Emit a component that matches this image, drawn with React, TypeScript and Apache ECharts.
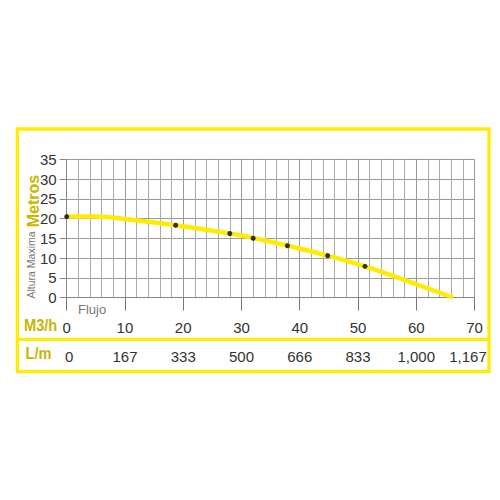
import React, { useEffect, useRef } from "react";
import * as echarts from "echarts";

// Pump curve: flow (M3/h) vs head (Metros)
const curveFlow = [0, 5, 10, 18.7, 28, 32, 38, 44.8, 51.2, 56, 66.3];
const curveHead = [20.5, 20.5, 19.9, 18.3, 16.2, 15.1, 13.1, 10.6, 7.9, 5.5, 0];
const pointFlow = [0, 18.7, 28, 32, 37.9, 44.8, 51.2];
const pointHead = [20.5, 18.3, 16.2, 15.0, 13.1, 10.6, 7.9];
const m3hTicks = [0, 10, 20, 30, 40, 50, 60, 70];
const lmLabels = ["0", "167", "333", "500", "666", "833", "1,000", "1,167"];

const YELLOW = "#ffec00";
const OLIVE = "#c9b600";
const FONT = "Liberation Sans, Arial, sans-serif";

export default function App() {
  const ref = useRef<HTMLDivElement>(null);
  useEffect(() => {
    if (!ref.current) return;
    const chart = echarts.init(ref.current, undefined, { renderer: "svg" });
    const lineData = curveFlow.map((x, i) => [x, curveHead[i]]);
    const dotData = pointFlow.map((x, i) => [x, pointHead[i]]);
    chart.setOption({
      animation: false,
      backgroundColor: "#ffffff",
      grid: { left: 66.7, right: 25.5, top: 159.3, bottom: 202.5, containLabel: false },
      xAxis: [
        {
          type: "value",
          position: "bottom",
          min: 0,
          max: 70,
          interval: 10,
          axisLine: { show: true, onZero: false, lineStyle: { color: "#888", width: 1 } },
          axisTick: { show: true, length: 13, lineStyle: { color: "#777", width: 1 } },
          axisLabel: {
            margin: 22,
            fontSize: 15,
            color: "#333",
            fontFamily: FONT,
            formatter: (v: number) => (m3hTicks.includes(v) ? String(v) : ""),
          },
          splitLine: { show: true, lineStyle: { color: "#9a9a9a", width: 1 } },
          minorTick: { show: false, splitNumber: 5 },
          minorSplitLine: { show: true, lineStyle: { color: "#aaaaaa", width: 1 } },
        },
        {
          type: "value",
          position: "bottom",
          min: 0,
          max: 70,
          interval: 10,
          axisLine: { show: false, onZero: false },
          axisTick: { show: false },
          splitLine: { show: false },
          axisLabel: {
            margin: 51,
            fontSize: 15,
            color: "#333",
            fontFamily: FONT,
            formatter: (v: number) => {
              const i = m3hTicks.indexOf(v);
              if (i < 0) return "";
              if (i === 0) return "{first|" + lmLabels[i] + "}";
              if (i === lmLabels.length - 1) return "{last|" + lmLabels[i] + "}";
              return lmLabels[i];
            },
            rich: {
              first: { fontSize: 15, color: "#333", fontFamily: FONT, padding: [0, 0, 0, 5] },
              last: { fontSize: 15, color: "#333", fontFamily: FONT, padding: [0, 13, 0, 0] },
            },
          },
        },
      ],
      yAxis: {
        type: "value",
        min: 0,
        max: 35,
        interval: 5,
        axisLine: { show: true, lineStyle: { color: "#888", width: 1 } },
        axisTick: { show: true, length: 7, lineStyle: { color: "#888", width: 1 } },
        axisLabel: { margin: 10, fontSize: 15, color: "#333", fontFamily: FONT },
        splitLine: { show: true, lineStyle: { color: "#9a9a9a", width: 1 } },
      },
      series: [
        {
          type: "line",
          xAxisIndex: 0,
          data: lineData,
          showSymbol: false,
          smooth: 0.2,
          lineStyle: { color: YELLOW, width: 4.5 },
          z: 2,
        },
        {
          type: "scatter",
          xAxisIndex: 0,
          data: dotData,
          symbolSize: 5,
          itemStyle: { color: "#000" },
          z: 3,
        },
      ],
      graphic: [
        {
          type: "rect",
          shape: { x: 17.3, y: 129, width: 471.7, height: 242.7 },
          style: { fill: "none", stroke: YELLOW, lineWidth: 3.3 },
          z: 10,
        },
        {
          type: "line",
          shape: { x1: 17.3, y1: 339.3, x2: 489, y2: 339.3 },
          style: { stroke: YELLOW, lineWidth: 3.3 },
          z: 10,
        },
        {
          type: "text",
          x: 33,
          y: 201,
          rotation: Math.PI / 2,
          style: {
            text: "Metros",
            fill: OLIVE,
            font: "bold 16px " + FONT,
            align: "center",
            verticalAlign: "middle",
          },
        },
        {
          type: "text",
          x: 30.5,
          y: 265,
          rotation: Math.PI / 2,
          style: {
            text: "Altura Maxima",
            fill: "#777",
            font: "10.5px " + FONT,
            align: "center",
            verticalAlign: "middle",
          },
        },
        {
          type: "text",
          x: 78,
          y: 309,
          style: {
            text: "Flujo",
            fill: "#777",
            font: "13px " + FONT,
            align: "left",
            verticalAlign: "middle",
          },
        },
        {
          type: "text",
          x: 24,
          y: 325.5,
          scaleX: 0.86,
          style: {
            text: "M3/h",
            fill: OLIVE,
            font: "bold 17px " + FONT,
            align: "left",
            verticalAlign: "middle",
          },
        },
        {
          type: "text",
          x: 25.5,
          y: 353.5,
          scaleX: 0.86,
          style: {
            text: "L/m",
            fill: OLIVE,
            font: "bold 17px " + FONT,
            align: "left",
            verticalAlign: "middle",
          },
        },
      ],
    });
    return () => chart.dispose();
  }, []);
  return (
    <div
      ref={ref}
      style={{ position: "absolute", left: 0, top: 0, width: 500, height: 500 }}
    />
  );
}
